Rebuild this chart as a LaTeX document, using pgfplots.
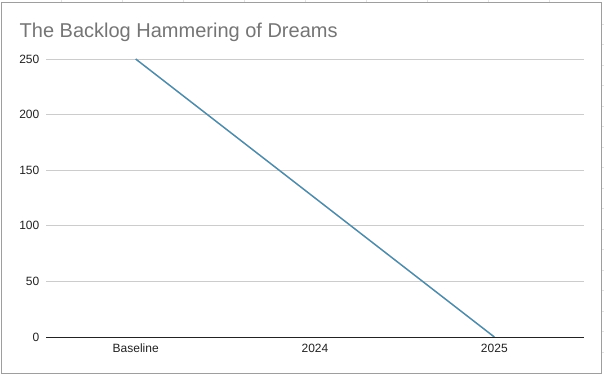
\documentclass[border=0pt]{standalone}
\usepackage{fontspec}
\setmainfont{Liberation Sans}
\usepackage{pgfplots}
\pgfplotsset{compat=1.18}
\definecolor{linec}{RGB}{82,139,168}
\definecolor{gridc}{RGB}{204,204,204}
\definecolor{borderc}{RGB}{158,158,158}
\definecolor{titlec}{RGB}{117,117,117}
\definecolor{tickc}{RGB}{34,34,34}
\definecolor{cellc}{RGB}{226,226,226}
\begin{document}
\begin{tikzpicture}
\fill[white] (0pt,0pt) rectangle (604pt,375pt);
\foreach \x in {61,122,183,244,305,366,427,488,549} \draw[cellc, line width=0.8pt] (\x pt,372pt) -- (\x pt,375pt);
\foreach \y in {24,44.5,65,85.5,106,126.5,147,167.5,188,208.5,229,249.5,270,290.5,311,331.5,352} \draw[cellc, line width=0.8pt] (602pt,375pt-\y pt) -- (604pt,375pt-\y pt);
\draw[borderc, line width=1pt] (1pt,2pt) rectangle (601.5pt,372.5pt);
\begin{axis}[at={(46pt,38pt)}, anchor=south west, scale only axis,
  width=538pt, height=278pt,
  xmin=-0.5, xmax=2.5, ymin=0, ymax=250,
  ytick={0,50,...,250}, xtick={0,1,2}, xticklabels={Baseline,2024,2025},
  ymajorgrids, major grid style={gridc, line width=0.8pt},
  axis line style={draw=none}, major tick length=0pt, tick style={draw=none},
  ticklabel style={font=\fontsize{12}{14}\selectfont, text=tickc},
  /pgf/number format/assume math mode=true,
  yticklabel style={anchor=east, inner sep=0pt, xshift=-6.5pt},
  xticklabel style={anchor=north, inner sep=0pt, yshift=-7pt},
  clip=false]
\addplot[linec, line width=1.5pt] coordinates {(0,250) (1,125) (2,0)};
\draw[tickc, line width=1pt] (rel axis cs:0,0) -- (rel axis cs:1,0);
\end{axis}
\node[anchor=base west, inner sep=0pt, font=\fontsize{20}{24}\selectfont, text=titlec] at (19.5pt,337.5pt) {The Backlog Hammering of Dreams};
\pgfresetboundingbox
\path (0pt,0pt) rectangle (604pt,375pt);
\end{tikzpicture}
\end{document}
